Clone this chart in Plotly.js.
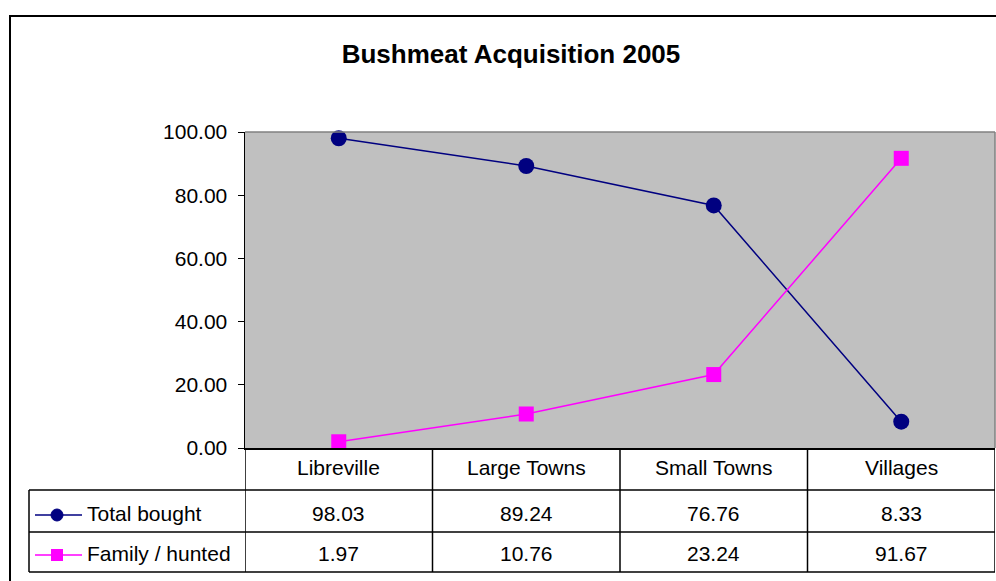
<!DOCTYPE html>
<html>
<head>
<meta charset="utf-8">
<script src="https://cdn.plot.ly/plotly-3.0.1.min.js"></script>
<style>html,body{margin:0;padding:0;background:#fff;overflow:hidden}#chart{width:996px;height:581px}</style>
</head>
<body>
<div id="chart"></div>
<script>
const categories = ['Libreville', 'Large Towns', 'Small Towns', 'Villages'];
const totalBought = [98.03, 89.24, 76.76, 8.33];
const familyHunted = [1.97, 10.76, 23.24, 91.67];
const seriesNames = ['Total bought', 'Family / hunted'];
const yTicks = [0, 20, 40, 60, 80, 100];

const FONT = 'Liberation Sans, Arial, Helvetica, sans-serif';
const W = 996, H = 581, L = 245, R = 995, T = 132, B = 448;
const NAVY = '#000080', MAG = '#FF00FF';
const px = p => (p - L) / (R - L);
const py = p => (B - p) / (B - T);

// table geometry (pixels)
const rowTop = [448, 490, 532];
const rowBot = 572;
const rowMid = [468, 513, 553];
const legLeft = 29;

const traces = [
  {x: categories, y: totalBought, name: seriesNames[0], type: 'scatter', mode: 'lines+markers',
   line: {color: NAVY, width: 1.5}, marker: {symbol: 'circle', size: 16, color: NAVY}, cliponaxis: false},
  {x: categories, y: familyHunted, name: seriesNames[1], type: 'scatter', mode: 'lines+markers',
   line: {color: MAG, width: 1.5}, marker: {symbol: 'square', size: 15, color: MAG}, cliponaxis: false}
];

const shapes = [];
const line = (x0, y0, x1, y1, color, w, xref) => shapes.push({type: 'line', xref: xref || 'paper', yref: 'paper',
  x0, y0, x1, y1, line: {color, width: w}});

// outer chart border
shapes.push({type: 'rect', xref: 'paper', yref: 'paper', x0: px(10), x1: px(1010), y0: py(16), y1: py(600),
  line: {color: '#000', width: 2}, fillcolor: 'rgba(0,0,0,0)', layer: 'below'});
// plot area top/right border (gray)
line(0, 1, 1, 1, '#808080', 1.5);
line(1, 0, 1, 1, '#808080', 1.5);
// table vertical lines through category boundaries
for (let i = 0; i <= categories.length; i++) {
  const xv = i - 0.5;
  shapes.push({type: 'line', xref: 'x', yref: 'paper', x0: xv, x1: xv, y0: py(rowTop[0]), y1: py(rowBot),
    line: {color: '#000', width: 1.5}});
}
// legend cell left border
line(px(legLeft), py(rowTop[1]), px(legLeft), py(rowBot), '#000', 1.5);
// horizontal lines
line(px(legLeft), py(rowTop[1]), 1, py(rowTop[1]), '#000', 1.5);
line(px(legLeft), py(rowTop[2]), 1, py(rowTop[2]), '#000', 1.5);
line(px(legLeft), py(rowBot), 1, py(rowBot), '#000', 1.5);

// legend keys inside table
const keyColors = [NAVY, MAG];
[0, 1].forEach(i => {
  const yc = rowMid[i + 1] + 2;
  line(px(35), py(yc), px(82), py(yc), keyColors[i], 1.5);
  if (i === 0) {
    shapes.push({type: 'circle', xref: 'paper', yref: 'paper', x0: px(51), x1: px(63), y0: py(yc - 6), y1: py(yc + 6),
      line: {color: NAVY, width: 1}, fillcolor: NAVY});
  } else {
    shapes.push({type: 'rect', xref: 'paper', yref: 'paper', x0: px(51), x1: px(63), y0: py(yc - 6), y1: py(yc + 6),
      line: {color: MAG, width: 0}, fillcolor: MAG});
  }
});

const annotations = [];
const tfont = {family: FONT, size: 21, color: '#000'};
categories.forEach((c, i) => {
  annotations.push({x: c, xref: 'x', y: py(rowMid[0]), yref: 'paper', text: c, showarrow: false,
    xanchor: 'center', yanchor: 'middle', font: tfont});
  annotations.push({x: c, xref: 'x', y: py(rowMid[1]), yref: 'paper', text: totalBought[i].toFixed(2), showarrow: false,
    xanchor: 'center', yanchor: 'middle', font: tfont});
  annotations.push({x: c, xref: 'x', y: py(rowMid[2]), yref: 'paper', text: familyHunted[i].toFixed(2), showarrow: false,
    xanchor: 'center', yanchor: 'middle', font: tfont});
});
seriesNames.forEach((n, i) => {
  annotations.push({x: px(85), xref: 'paper', y: py(rowMid[i + 1]), yref: 'paper', text: n, showarrow: false,
    xanchor: 'left', yanchor: 'middle', font: tfont});
});

const layout = {
  width: W, height: H,
  margin: {l: L, r: W - R, t: T, b: H - B, autoexpand: false},
  paper_bgcolor: '#fff', plot_bgcolor: '#C0C0C0',
  showlegend: false,
  title: {text: '<b>Bushmeat Acquisition 2005</b>', font: {family: FONT, size: 26, color: '#000'},
    xref: 'paper', x: px(511), xanchor: 'center', yref: 'container', y: 1 - 54 / H, yanchor: 'middle'},
  xaxis: {type: 'category', range: [-0.5, categories.length - 0.5], showticklabels: false, ticks: '',
    showgrid: false, zeroline: false, showline: true, linecolor: '#000', linewidth: 1.5, fixedrange: true},
  yaxis: {range: [0, 100], tickvals: yTicks, tickformat: '.2f', ticks: 'outside', ticklen: 6, tickcolor: '#000',
    tickwidth: 1, showgrid: false, zeroline: false, showline: true, linecolor: '#000', linewidth: 1.5,
    ticklabelstandoff: 6,
    tickfont: {family: FONT, size: 21, color: '#000'}, fixedrange: true},
  shapes, annotations
};

Plotly.newPlot('chart', traces, layout, {displayModeBar: false, staticPlot: true});
</script>
</body>
</html>
